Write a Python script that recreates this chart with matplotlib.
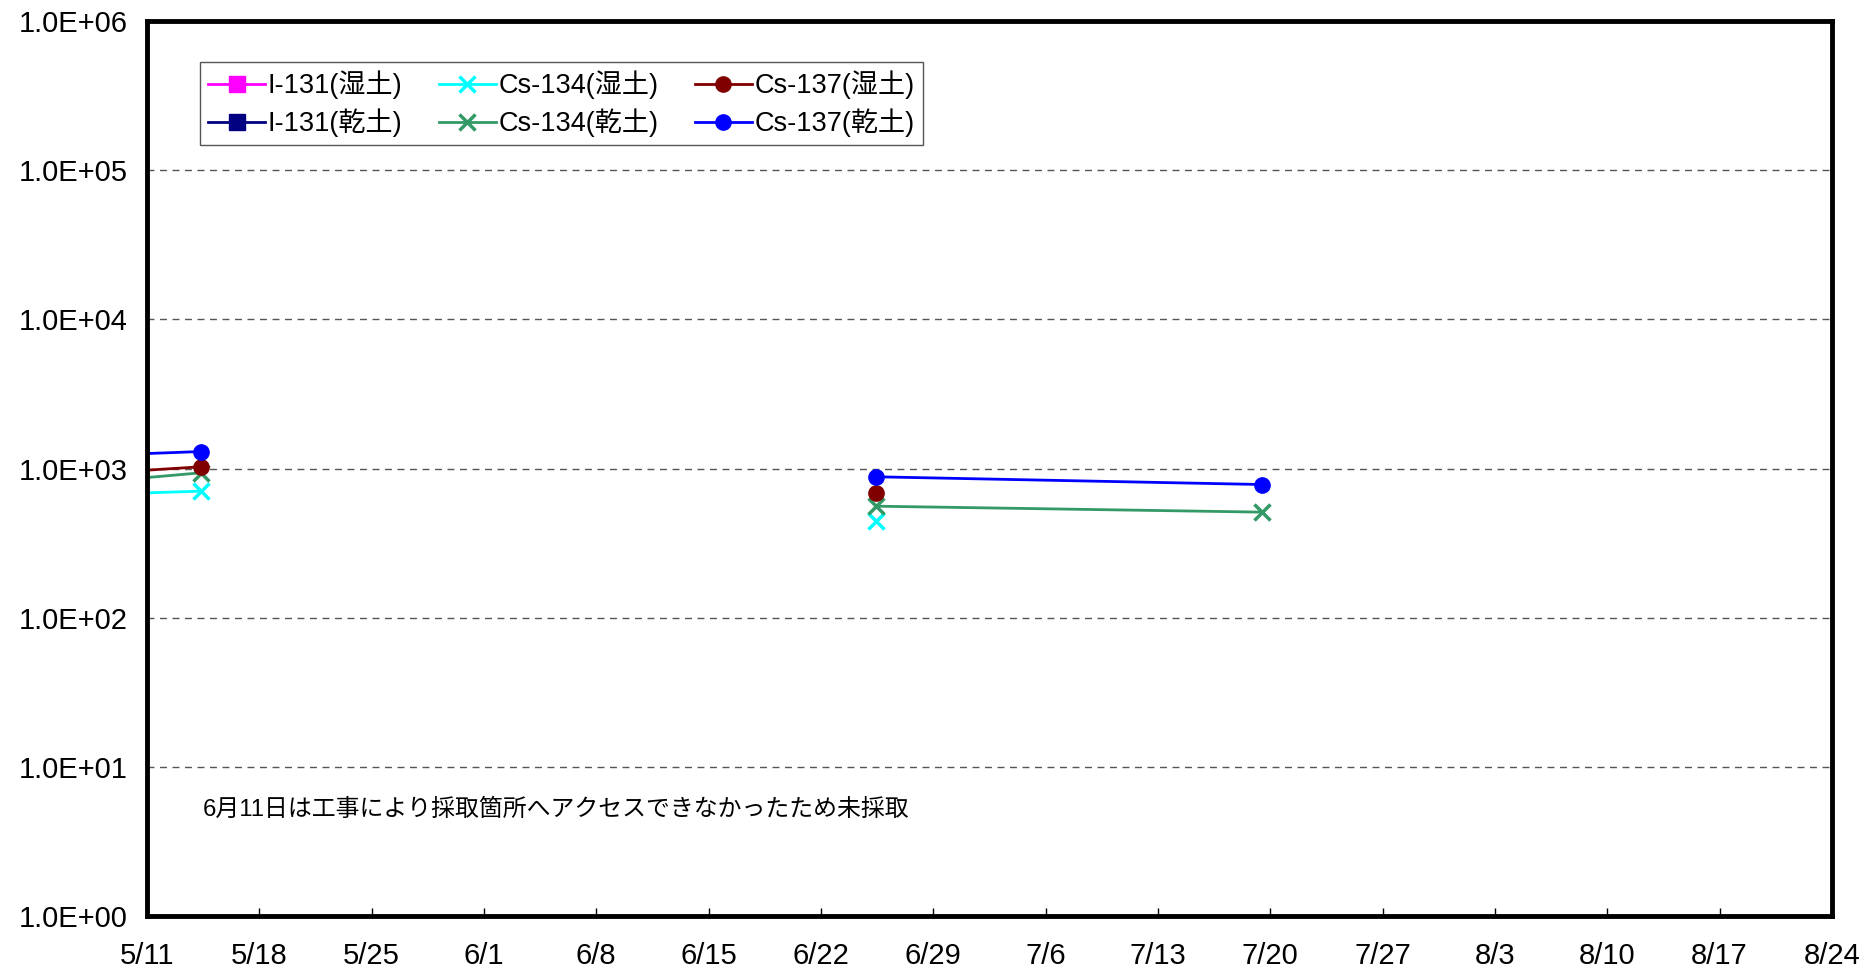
import numpy as np
import pandas as pd
import matplotlib
matplotlib.use("Agg")
import matplotlib.pyplot as plt
import matplotlib.dates as mdates
from matplotlib.ticker import FuncFormatter, FixedLocator

plt.rcParams['font.family'] = ['Liberation Sans', 'Noto Sans CJK JP', 'DejaVu Sans']

# sampling dates (the first one lies before the visible range)
dates = pd.to_datetime(['2011-04-12 10:00', '2011-05-14 09:00', '2011-06-11 09:00',
                        '2011-06-25 10:30', '2011-07-19 11:30'])
nan = np.nan
i131_wet = [nan, nan, nan, nan, nan]
i131_dry = [nan, nan, nan, nan, nan]
cs134_wet = [551, 705, nan, 444, nan]
cs134_dry = [467, 936, nan, 559, 510]
cs137_wet = [626, 1027, nan, 687, nan]
cs137_dry = [966, 1300, nan, 880, 781]

xticks = pd.date_range('2011-05-11', '2011-08-24', freq='7D')
yticks = [1e0, 1e1, 1e2, 1e3, 1e4, 1e5, 1e6]
note = '6月11日は工事により採取箇所へアクセスできなかったため未採取'

fig = plt.figure(figsize=(18.67, 9.69), dpi=100)
ax = fig.add_axes([0.0787, 0.0547, 0.9025, 0.9236])

series = [
    (i131_wet, 'I-131(湿土)', '#ff00ff', 's'),
    (i131_dry, 'I-131(乾土)', '#000080', 's'),
    (cs134_wet, 'Cs-134(湿土)', '#00ffff', 'x'),
    (cs134_dry, 'Cs-134(乾土)', '#339966', 'x'),
    (cs137_wet, 'Cs-137(湿土)', '#800000', 'o'),
    (cs137_dry, 'Cs-137(乾土)', '#0000ff', 'o'),
]
for vals, label, col, mk in series:
    ax.plot(dates, vals, color=col, marker=mk, lw=2, ms=11 if mk != 'x' else 12,
            mew=2.5 if mk == 'x' else 1, label=label)

ax.set_yscale('log')
ax.set_ylim(1, 1e6)
ax.set_xlim(xticks[0], xticks[-1])
ax.yaxis.set_major_locator(FixedLocator(yticks))
ax.yaxis.set_minor_locator(FixedLocator([]))
ax.yaxis.set_major_formatter(FuncFormatter(lambda v, p: '1.0E+%02d' % round(np.log10(v))))
ax.set_xticks(xticks)
ax.xaxis.set_major_formatter(FuncFormatter(lambda v, p: '%d/%d' % (mdates.num2date(v).month, mdates.num2date(v).day)))

ax.tick_params(axis='x', direction='in', length=6, width=1, pad=19, labelsize=21)
ax.tick_params(axis='y', length=0, pad=14, labelsize=21)
ax.grid(axis='y', linestyle=(0, (5, 4)), color='#555555', lw=1)
for s in ax.spines.values():
    s.set_linewidth(3.5)
    s.set_color('black')

ax.text(0.033, 0.119, note, transform=ax.transAxes, fontsize=17.2, va='center', ha='left')

leg = ax.legend(ncol=3, loc='upper left', bbox_to_anchor=(0.0315, 0.954), borderaxespad=0,
                fontsize=19.5, fancybox=False, edgecolor='#555555', framealpha=1,
                handlelength=2.1, columnspacing=1.35, handletextpad=0.1, labelspacing=0.35,
                borderpad=0.3)
leg.get_frame().set_linewidth(1)

fig.savefig('out.png', dpi=100)
